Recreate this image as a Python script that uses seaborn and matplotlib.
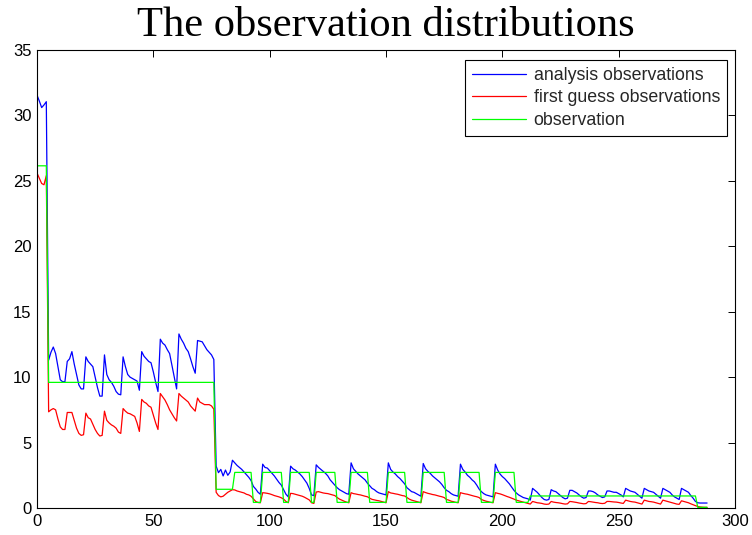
import numpy as np
import pandas as pd
import matplotlib
matplotlib.use("Agg")
import matplotlib.pyplot as plt
from matplotlib.lines import Line2D
import seaborn as sns

# ---------------- data ----------------
x_index = list(range(289))

analysis = [
    31.55, 31.1, 30.6, 30.8, 31.05,
    11.3, 11.9, 12.3, 11.8, 10.8, 9.8, 9.65, 9.65,
    11.2, 11.4, 11.95, 11.0, 10.2, 9.4, 9.1, 9.1,
    11.55, 11.2, 11.0, 10.8, 10.0, 9.2, 8.55, 8.55,
    11.7, 10.2, 9.8, 9.6, 9.3, 8.9, 8.7, 8.65,
    11.55, 10.8, 10.2, 10.0, 9.9, 9.8, 9.7, 9.0,
    11.95, 11.6, 11.4, 11.2, 11.1, 10.4, 9.6, 8.9,
    12.9, 12.6, 12.45, 12.1, 11.8, 10.9, 10.0, 9.1,
    13.3, 12.9, 12.6, 12.2, 11.95, 11.4, 10.8, 10.3,
    12.8, 12.75, 12.7, 12.4, 12.1, 11.9, 11.7, 11.35,
    3.2, 2.7, 2.95, 2.45, 2.9, 2.5, 2.75, 3.65,
    3.45, 3.25, 3.1, 2.95, 2.75, 2.55, 2.35, 2.1, 1.65, 1.45, 1.2, 1.05,
    3.35, 3.1, 3.05, 2.85, 2.65, 2.45, 2.2, 1.95, 1.75, 1.4, 1.05, 0.85,
    3.2, 3.0, 2.9, 2.75, 2.6, 2.4, 2.15, 1.9, 1.5, 1.0, 0.95,
    3.3, 3.1, 2.95, 2.8, 2.65, 2.45, 2.15, 1.95, 1.75, 1.55, 1.4, 1.3, 1.2, 1.1, 1.05,
    3.45, 3.0, 2.8, 2.6, 2.45, 2.3, 2.15, 1.9, 1.7, 1.5, 1.4, 1.25, 1.15, 1.1, 1.05, 1.0,
    3.45, 2.95, 2.75, 2.6, 2.4, 2.25, 2.05, 1.85, 1.55, 1.4, 1.25, 1.2, 1.1, 1.0, 0.9,
    3.4, 3.0, 2.8, 2.65, 2.45, 2.3, 2.15, 2.0, 1.8, 1.55, 1.35, 1.25, 1.1, 1.0, 0.95, 0.9,
    3.35, 2.95, 2.75, 2.5, 2.35, 2.15, 2.0, 1.75, 1.45, 1.25, 1.1, 1.0, 0.95, 0.9, 0.85,
    3.35, 2.9, 2.6, 2.4, 2.25, 2.05, 1.85, 1.6, 1.35, 1.15, 1.0, 0.9, 0.8, 0.75, 0.7,
    0.6,
    1.5, 1.35, 1.2, 1.0, 0.8, 0.65, 0.6, 0.65,
    1.4, 1.3, 1.25, 1.1, 0.95, 0.8, 0.7, 0.75,
    1.35, 1.35, 1.25, 1.15, 1.0, 0.85, 0.75, 0.8,
    1.3, 1.3, 1.25, 1.15, 1.0, 0.9, 0.8, 0.85,
    1.3, 1.3, 1.25, 1.2, 1.2, 1.1, 1.0, 0.85,
    1.5, 1.4, 1.3, 1.25, 1.2, 1.05, 0.9, 0.75,
    1.5, 1.4, 1.3, 1.25, 1.2, 1.05, 0.9, 0.75,
    1.5, 1.4, 1.3, 1.2, 1.0, 0.85, 0.75, 0.65,
    1.5, 1.4, 1.3, 1.2, 0.95, 0.75, 0.5,
    0.4, 0.38, 0.38, 0.38, 0.38,
]

first_guess = [
    25.6, 25.2, 24.8, 24.7, 25.4,
    7.35, 7.5, 7.6, 7.5, 6.8, 6.2, 6.0, 6.0,
    7.3, 7.3, 7.3, 6.7, 6.1, 5.7, 5.55, 5.6,
    7.25, 6.9, 6.8, 6.4, 6.0, 5.7, 5.5, 5.55,
    7.4, 6.7, 6.5, 6.35, 6.25, 6.1, 5.8, 5.7,
    7.6, 7.4, 7.25, 7.2, 7.1, 7.0, 6.5, 5.85,
    8.3, 8.1, 8.0, 7.8, 7.7, 7.1, 6.5, 6.0,
    8.75, 8.5, 8.25, 7.9, 7.5, 7.2, 6.9, 6.65,
    8.75, 8.55, 8.4, 8.25, 8.1, 7.8, 7.6, 7.4,
    8.4, 8.1, 8.0, 7.9, 7.9, 7.9, 7.8, 7.55,
    1.2, 0.95, 0.85, 0.9, 1.05, 1.2, 1.3, 1.4,
    1.38, 1.3, 1.25, 1.2, 1.15, 1.05, 1.0, 0.9, 0.7, 0.5, 0.42, 0.4,
    1.17, 1.15, 1.12, 1.08, 1.02, 0.95, 0.9, 0.85, 0.78, 0.68, 0.5, 0.4,
    1.12, 1.1, 1.05, 1.0, 0.95, 0.9, 0.82, 0.72, 0.62, 0.4, 0.35,
    1.22, 1.25, 1.2, 1.15, 1.12, 1.1, 1.05, 1.0, 0.95, 0.8, 0.68, 0.6, 0.52, 0.45, 0.4,
    1.17, 1.1, 1.07, 1.03, 1.0, 0.95, 0.9, 0.86, 0.75, 0.66, 0.62, 0.58, 0.55, 0.5, 0.45, 0.4,
    1.25, 1.15, 1.12, 1.08, 1.05, 1.0, 0.95, 0.92, 0.8, 0.68, 0.6, 0.55, 0.5, 0.45, 0.4,
    1.25, 1.18, 1.12, 1.08, 1.03, 1.0, 0.95, 0.9, 0.86, 0.8, 0.65, 0.6, 0.52, 0.48, 0.43, 0.4,
    1.17, 1.12, 1.08, 1.05, 1.0, 0.95, 0.9, 0.86, 0.8, 0.65, 0.58, 0.52, 0.48, 0.43, 0.4,
    1.17, 1.12, 1.08, 1.02, 0.95, 0.88, 0.82, 0.75, 0.68, 0.6, 0.55, 0.5, 0.45, 0.4, 0.35,
    0.3,
    0.5, 0.45, 0.4, 0.38, 0.35, 0.3, 0.28, 0.3,
    0.5, 0.45, 0.42, 0.4, 0.37, 0.33, 0.3, 0.32,
    0.5, 0.48, 0.45, 0.42, 0.38, 0.35, 0.32, 0.34,
    0.5, 0.48, 0.45, 0.42, 0.4, 0.36, 0.34, 0.36,
    0.5, 0.5, 0.48, 0.46, 0.45, 0.42, 0.38, 0.35,
    0.6, 0.55, 0.5, 0.47, 0.45, 0.4, 0.35, 0.3,
    0.6, 0.55, 0.5, 0.48, 0.45, 0.4, 0.35, 0.3,
    0.6, 0.55, 0.5, 0.45, 0.4, 0.35, 0.3, 0.28,
    0.55, 0.5, 0.45, 0.4, 0.32, 0.25, 0.18,
    0.12, 0.08, 0.06, 0.05, 0.05,
]

observation = [
    26.15, 26.15, 26.15, 26.15, 26.15,
    9.6, 9.6, 9.6, 9.6, 9.6, 9.6, 9.6, 9.6, 9.6, 9.6, 9.6, 9.6,
    9.6, 9.6, 9.6, 9.6, 9.6, 9.6, 9.6, 9.6, 9.6, 9.6, 9.6, 9.6,
    9.6, 9.6, 9.6, 9.6, 9.6, 9.6, 9.6, 9.6, 9.6, 9.6, 9.6, 9.6,
    9.6, 9.6, 9.6, 9.6, 9.6, 9.6, 9.6, 9.6, 9.6, 9.6, 9.6, 9.6,
    9.6, 9.6, 9.6, 9.6, 9.6, 9.6, 9.6, 9.6, 9.6, 9.6, 9.6, 9.6,
    9.6, 9.6, 9.6, 9.6, 9.6, 9.6, 9.6, 9.6, 9.6, 9.6, 9.6, 9.6,
    1.43, 1.43, 1.43, 1.43, 1.43, 1.43, 1.43, 1.43,
    2.72, 2.72, 2.72, 2.72, 2.72, 2.72, 2.72, 2.72,
    0.43, 0.43, 0.43, 0.43,
    2.72, 2.72, 2.72, 2.72, 2.72, 2.72, 2.72, 2.72, 2.72,
    0.43, 0.43, 0.43,
    2.72, 2.72, 2.72, 2.72, 2.72, 2.72, 2.72, 2.72, 2.72,
    0.43, 0.43,
    2.72, 2.72, 2.72, 2.72, 2.72, 2.72, 2.72, 2.72, 2.72,
    0.43, 0.43, 0.43, 0.43, 0.43, 0.43,
    2.72, 2.72, 2.72, 2.72, 2.72, 2.72, 2.72, 2.72,
    0.43, 0.43, 0.43, 0.43, 0.43, 0.43, 0.43, 0.43,
    2.72, 2.72, 2.72, 2.72, 2.72, 2.72, 2.72, 2.72,
    0.43, 0.43, 0.43, 0.43, 0.43, 0.43, 0.43,
    2.72, 2.72, 2.72, 2.72, 2.72, 2.72, 2.72, 2.72, 2.72, 2.72,
    0.43, 0.43, 0.43, 0.43, 0.43, 0.43,
    2.72, 2.72, 2.72, 2.72, 2.72, 2.72, 2.72, 2.72, 2.72,
    0.43, 0.43, 0.43, 0.43, 0.43, 0.43,
    2.72, 2.72, 2.72, 2.72, 2.72, 2.72, 2.72, 2.72, 2.72,
    0.43, 0.43, 0.43, 0.43, 0.43, 0.43,
    0.92, 0.92, 0.92, 0.92, 0.92, 0.92, 0.92, 0.92, 0.92, 0.92, 0.92, 0.92,
    0.92, 0.92, 0.92, 0.92, 0.92, 0.92, 0.92, 0.92, 0.92, 0.92, 0.92, 0.92,
    0.92, 0.92, 0.92, 0.92, 0.92, 0.92, 0.92, 0.92, 0.92, 0.92, 0.92, 0.92,
    0.92, 0.92, 0.92, 0.92, 0.92, 0.92, 0.92, 0.92, 0.92, 0.92, 0.92, 0.92,
    0.92, 0.92, 0.92, 0.92, 0.92, 0.92, 0.92, 0.92, 0.92, 0.92, 0.92, 0.92,
    0.92, 0.92, 0.92, 0.92, 0.92, 0.92, 0.92, 0.92, 0.92, 0.92, 0.92, 0.92,
    0.05, 0.05, 0.05, 0.05, 0.05,
]

series_names = ["analysis observations", "first guess observations", "observation"]
series_colors = ["#0000ff", "#ff0000", "#00ff00"]
x_ticks = [0, 50, 100, 150, 200, 250, 300]
y_ticks = [0, 5, 10, 15, 20, 25, 30, 35]
chart_title = "The observation distributions"

# ---------------- plotting ----------------
sns.set_theme(style="white")
plt.rcParams["font.family"] = ["Liberation Sans", "DejaVu Sans"]

frames = []
for name, vals in zip(series_names, [analysis, first_guess, observation]):
    frames.append(pd.DataFrame({"x": x_index[:len(vals)], "value": vals, "series": name}))
df = pd.concat(frames, ignore_index=True)

fig = plt.figure(figsize=(7.52, 5.35), dpi=100)
ax = fig.add_axes([37 / 752, 1 - 508 / 535, (735 - 37) / 752, (508 - 50) / 535])

sns.lineplot(data=df, x="x", y="value", hue="series", hue_order=series_names,
             palette=dict(zip(series_names, series_colors)), linewidth=0.9,
             estimator=None, sort=False, legend=False, ax=ax)

ax.set_xlim(0, 300)
ax.set_ylim(0, 35)
ax.set_xticks(x_ticks)
ax.set_yticks(y_ticks)
ax.set_xlabel("")
ax.set_ylabel("")
ax.tick_params(direction="in", top=True, right=True, length=5, width=0.7,
               labelsize=12, colors="black", pad=4)
for sp in ax.spines.values():
    sp.set_visible(True)
    sp.set_color("black")
    sp.set_linewidth(0.8)

ax.set_title(chart_title, fontfamily="Liberation Serif", fontsize=30.6, pad=10, color="black")

handles = [Line2D([0], [0], color=c, lw=0.9) for c in series_colors]
leg = ax.legend(handles, series_names, loc="upper right",
                bbox_to_anchor=((727 - 37) / (735 - 37), (508 - 60) / (508 - 50)),
                borderaxespad=0, fontsize=12.8, frameon=True, fancybox=False,
                framealpha=1, edgecolor="black", handlelength=3.0,
                handletextpad=0.45, labelspacing=0.3, borderpad=0.4)
leg.get_frame().set_linewidth(0.8)

fig.savefig("out.png", dpi=100)
